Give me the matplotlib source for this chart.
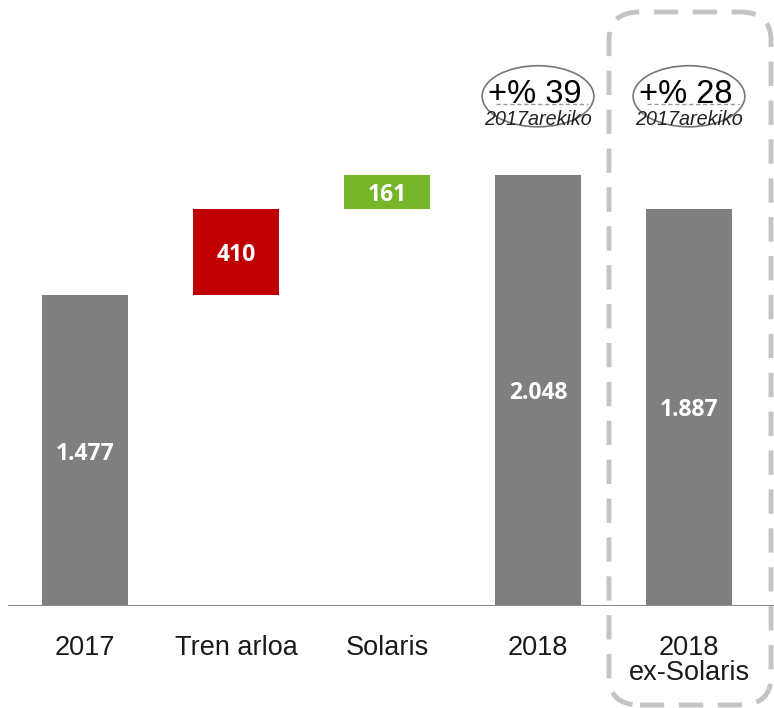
import numpy as np
import matplotlib
matplotlib.use("Agg")
import matplotlib.pyplot as plt
from matplotlib.patches import Ellipse, FancyBboxPatch

categories = ["2017", "Tren arloa", "Solaris", "2018", "2018\nex-Solaris"]
values = [1477, 410, 161, 2048, 1887]
value_labels = ["1.477", "410", "161", "2.048", "1.887"]
kinds = ["total", "step", "step", "total", "total"]
growth_labels = {3: "+% 39", 4: "+% 28"}
growth_sub = "2017arekiko"

gray = "#7f7f7f"
red = "#c00000"
green = "#77b52a"

plt.rcParams['font.family'] = ['Liberation Sans', 'DejaVu Sans']

fig = plt.figure(figsize=(7.74, 7.08), dpi=100)
ax = fig.add_axes([8 / 774, 102 / 708, 766 / 774, 606 / 708])

x = np.arange(len(categories))
bottoms = []
running = 0
for v, k in zip(values, kinds):
    if k == "total":
        bottoms.append(0)
        running = v
    else:
        bottoms.append(running)
        running += v

colors = [gray, red, green, gray, gray]
bars = ax.bar(x, values, bottom=bottoms, width=0.57, color=colors, zorder=2)

for xi, v, b, lab in zip(x, values, bottoms, value_labels):
    ax.text(xi, b + v / 2 - 15, lab, ha="center", va="center", color="white",
            fontsize=16.5, fontweight="bold", family=["Open Sans", "DejaVu Sans"])

ax.set_xlim(-0.51, 4.563)
ax.set_ylim(0, 2877)
ax.axhline(0, color="#8c8c8c", lw=1.5, zorder=3)
for s in ax.spines.values():
    s.set_visible(False)
ax.set_yticks([])
ax.set_xticks([])

# category labels below the axis
for xi, c in zip(x, categories):
    ax.text(xi, -140, c, ha="center", va="top", fontsize=19.5, color="#1a1a1a",
            linespacing=0.95)

# growth ellipses
for i, g in growth_labels.items():
    yc = 2420
    ax.add_patch(Ellipse((i, yc), 0.74, 290, fill=False, ec="#777777", lw=1.2,
                         zorder=4, clip_on=False))
    ax.text(i - 0.02, yc - 30, g, ha="center", va="baseline", fontsize=23.5,
            color="black", zorder=5)
    ax.plot([i - 0.28, i + 0.33], [yc - 37, yc - 37], ls=(0, (3, 2)),
            color="#999999", lw=1, zorder=5)
    ax.text(i, yc - 112, growth_sub, ha="center", va="center", fontsize=14.2,
            style="italic", color="#222222", zorder=5)

# dashed rounded box around the ex-Solaris column
box = FancyBboxPatch((609 / 774, 3 / 708), 162 / 774, 693 / 708,
                     boxstyle="round,pad=0,rounding_size=0.04",
                     transform=fig.transFigure, fill=False, ec="#c4c4c4",
                     lw=3.5, ls=(0, (5, 3)))
fig.patches.append(box)

fig.savefig("out.png", dpi=100)
